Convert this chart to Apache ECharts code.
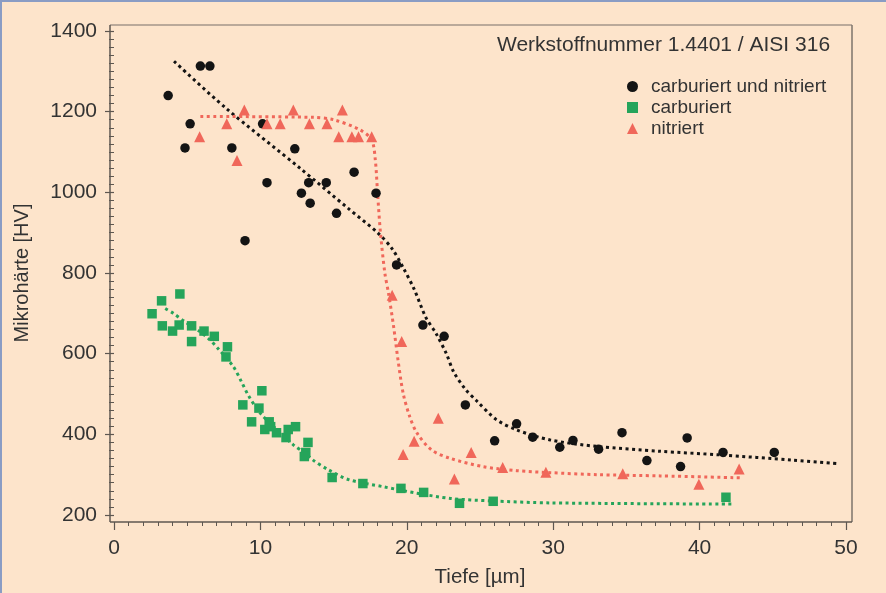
<!DOCTYPE html>
<html>
<head>
<meta charset="utf-8">
<script src="https://cdn.jsdelivr.net/npm/echarts@6/dist/echarts.min.js"></script>
<style>
html,body{margin:0;padding:0;background:#fde4cb;}
#chart{width:886px;height:593px;}
</style>
</head>
<body>
<div id="chart"></div>
<script>
// ---- data (depth in µm, hardness in HV) ----
const titleText = 'Werkstoffnummer 1.4401 / AISI 316';
const xTicks = [0, 10, 20, 30, 40, 50];
const yTicks = [200, 400, 600, 800, 1000, 1200, 1400];
const seriesNames = ['carburiert und nitriert', 'carburiert', 'nitriert'];

const carbNitPoints = [
  [3.7,1240],[5.9,1313],[6.55,1313],[4.85,1110],[5.2,1170],[8.05,1110],
  [10.15,1170],[12.35,1108],[10.45,1024],[13.3,1024],[14.5,1024],[12.8,998],
  [13.4,973],[16.4,1050],[15.2,948],[17.9,998],[8.95,880],[19.3,820],
  [21.1,671],[22.55,643],[24.0,473],[26.0,384],[27.5,426],[28.6,393],
  [30.45,368],[31.35,385],[33.1,363],[34.7,404],[36.4,335],[38.7,320],
  [39.15,391],[41.6,355],[45.1,355]
];
const carbPoints = [
  [2.6,699],[3.25,731],[4.5,748],[3.3,669],[4.0,656],[4.45,671],[5.3,669],
  [5.3,630],[6.15,656],[6.85,643],[7.75,617],[7.65,592],[10.1,508],[8.8,473],
  [9.9,465],[9.4,431],[10.6,431],[10.3,412],[10.7,419],[11.1,404],[11.75,392],
  [11.9,412],[12.4,419],[13.25,380],[13.1,355],[13.0,345],[14.9,293],[17.0,278],
  [19.6,266],[21.15,256],[23.6,229],[25.9,234],[41.8,244]
];
const nitPoints = [
  [5.85,1138],[7.7,1170],[8.9,1204],[8.4,1079],[10.45,1170],[11.35,1170],
  [12.25,1204],[13.35,1170],[14.55,1170],[15.6,1204],[15.35,1138],[16.25,1138],
  [16.7,1138],[17.6,1138],[19.0,745],[19.65,630],[19.75,350],[20.5,383],
  [22.15,440],[23.25,289],[24.4,355],[26.55,318],[29.5,306],[34.75,302],
  [39.95,276],[42.7,314]
];

// fitted trend curves
const carbNitFit = [
  [4.1,1325],[7.6,1210],[12.7,1060],[16,960],[18,900],[19,860],[19.8,810],
  [20.5,760],[21.3,690],[22,650],[22.7,600],[23.2,555],[24,512],[24.8,482],
  [26.1,437],[27.5,411],[29.8,386],[33,370],[37.3,358],[41.4,349],[46.4,336],[49.5,327]
];
const carbFit = [
  [3.5,712],[4.05,700],[4.85,679],[5.9,654],[6.55,634],[7.1,613],[8.15,568],
  [8.7,531],[9.2,495],[10,452],[10.9,419],[12.25,374],[13.05,353],[13.6,336],
  [14.6,313],[16,288],[18.4,270],[20.7,254],[23,241],[25.7,235],[29.8,230],[42.3,227]
];
const nitFit = [
  [5.9,1188],[13.6,1186],[15,1180],[16.8,1155],[17.6,1130],[17.85,1080],
  [18.0,1000],[18.2,900],[18.5,800],[18.75,750],[19.1,667],[19.4,584],
  [19.75,502],[20.2,444],[20.7,403],[21.7,361],[23,340],[25.2,320],
  [27.5,310],[29.8,305],[33,300],[37.3,297],[42.9,292]
];

const colBlack = '#141414';
const colGreen = '#25a45a';
const colRed = '#f0675a';
const textCol = '#333333';
const font = 'Liberation Sans, Arial, sans-serif';

const chart = echarts.init(document.getElementById('chart'), null, {renderer: 'canvas'});

const G = {left: 114, right: 40, top: 31, bottom: 78};

function fitSeries(data, color) {
  return {
    type: 'line', data: data, showSymbol: false, symbol: 'none', smooth: 0.3,
    lineStyle: {color: color, width: 3, type: [3, 3.5], cap: 'butt'},
    silent: true, z: 2
  };
}

chart.setOption({
  backgroundColor: '#fde4cb',
  animation: false,
  title: {
    text: titleText, left: 492, top: 30,
    textStyle: {fontFamily: font, fontSize: 21, fontWeight: 'normal', color: textCol}
  },
  legend: {
    orient: 'vertical', left: 622, top: 72, itemGap: 2,
    itemWidth: 11, itemHeight: 11,
    textStyle: {fontFamily: font, fontSize: 19, color: textCol, padding: [0, 0, 0, 8]},
    data: [
      {name: seriesNames[0], icon: 'circle'},
      {name: seriesNames[1], icon: 'rect'},
      {name: seriesNames[2], icon: 'triangle'}
    ]
  },
  grid: G,
  graphic: [
    {type: 'line', shape: {x1: 110, y1: 25, x2: 852, y2: 25}, style: {stroke: '#a3968a', lineWidth: 1.5}, z: 1},
    {type: 'line', shape: {x1: 852, y1: 25, x2: 852, y2: 522}, style: {stroke: '#7d746b', lineWidth: 1.5}, z: 1},
    {type: 'line', shape: {x1: 110, y1: 25, x2: 110, y2: 522}, style: {stroke: '#5e5750', lineWidth: 1.5}, z: 1},
    {type: 'line', shape: {x1: 110, y1: 522, x2: 852, y2: 522}, style: {stroke: '#5e5750', lineWidth: 1.5}, z: 1},
    {type: 'line', shape: {x1: 0, y1: 1, x2: 886, y2: 1}, style: {stroke: '#8a9cc4', lineWidth: 2}, z: 1},
    {type: 'line', shape: {x1: 1, y1: 0, x2: 1, y2: 593}, style: {stroke: '#8a9cc4', lineWidth: 2}, z: 1}
  ],
  xAxis: {
    type: 'value', min: xTicks[0], max: xTicks[xTicks.length - 1], interval: 10,
    offset: 7,
    name: 'Tiefe [µm]', nameLocation: 'middle', nameGap: 45,
    nameTextStyle: {fontFamily: font, fontSize: 20.5, color: textCol},
    axisLine: {show: false},
    axisTick: {show: true, length: 8, lineStyle: {color: '#5e5750', width: 1.2}},
    minorTick: {show: true, splitNumber: 10, length: 4, lineStyle: {color: '#5e5750', width: 1}},
    axisLabel: {fontFamily: font, fontSize: 21, color: textCol, margin: 16,
      formatter: function (v) { return String(v); }},
    splitLine: {show: false}
  },
  yAxis: {
    type: 'value', min: yTicks[0], max: yTicks[yTicks.length - 1], interval: 200,
    offset: 4,
    name: 'Mikrohärte [HV]', nameLocation: 'middle', nameGap: 78, nameRotate: 90,
    nameTextStyle: {fontFamily: font, fontSize: 20, color: textCol},
    axisLine: {show: false},
    axisTick: {show: true, length: 9, lineStyle: {color: '#5e5750', width: 1.2}},
    minorTick: {show: true, splitNumber: 10, length: 5, lineStyle: {color: '#5e5750', width: 1}},
    axisLabel: {fontFamily: font, fontSize: 21, color: textCol, margin: 13,
      formatter: function (v) { return String(v); }},
    splitLine: {show: false}
  },
  series: [
    fitSeries(carbNitFit, colBlack),
    fitSeries(carbFit, colGreen),
    fitSeries(nitFit, colRed),
    {name: seriesNames[0], type: 'scatter', data: carbNitPoints, symbol: 'circle', symbolSize: 9.5,
      itemStyle: {color: colBlack, opacity: 1}, z: 5},
    {name: seriesNames[1], type: 'scatter', data: carbPoints, symbol: 'rect', symbolSize: 9.5,
      itemStyle: {color: colGreen, opacity: 1}, z: 5},
    {name: seriesNames[2], type: 'scatter', data: nitPoints, symbol: 'triangle', symbolSize: 11,
      itemStyle: {color: colRed, opacity: 1}, z: 5}
  ]
});
</script>
</body>
</html>
